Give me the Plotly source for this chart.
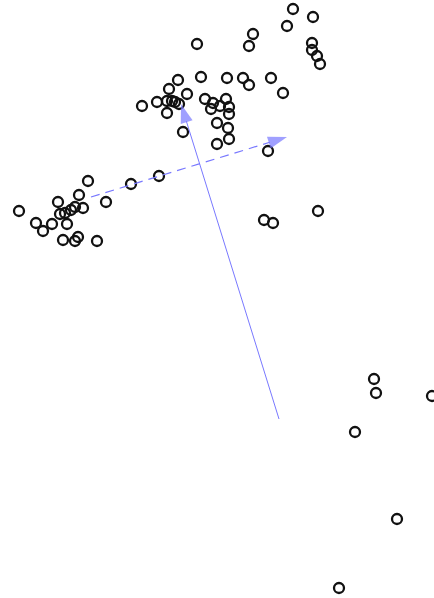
import plotly.graph_objects as go

# point scores (x right, y down)
pts_x = [293, 313, 287, 253, 249, 197, 312, 312, 317, 320,
         178, 201, 227, 243, 249, 271, 283, 169, 187, 142,
         157, 167, 172, 175, 179, 167, 205, 213, 211, 220,
         226, 229, 229, 217, 228, 183, 217, 229, 268,
         88, 159, 131, 79, 106, 19, 58, 83, 75, 71,
         65, 60, 36, 52, 43, 67, 63, 78, 75, 97,
         264, 273, 318,
         374, 376, 432, 355, 397, 339]
pts_y = [9, 17, 26, 34, 46, 44, 43, 50, 56, 64,
         80, 77, 78, 78, 85, 78, 93, 89, 94, 106,
         102, 101, 101, 102, 104, 113, 99, 103, 109, 106,
         99, 107, 114, 123, 128, 132, 144, 139, 151,
         181, 176, 184, 195, 202, 211, 202, 208, 207, 210,
         213, 214, 223, 224, 231, 224, 240, 237, 241, 241,
         220, 223, 211,
         379, 393, 396, 432, 519, 588]

# loading vectors (start, end)
solid_x = [279, 181]
solid_y = [419, 104]
dash_x = [91, 287]
dash_y = [197, 137]

arrow_col = "#7878ff"

fig = go.Figure()

fig.add_trace(go.Scatter(
    x=pts_x, y=pts_y, mode="markers", cliponaxis=False,
    marker=dict(symbol="circle-open", size=10, color="#111111",
                line=dict(width=2.3, color="#111111")),
    hoverinfo="skip", showlegend=False,
))

for xs, ys, dash, w in [(solid_x, solid_y, "solid", 1), (dash_x, dash_y, "9px,6px", 1.2)]:
    fig.add_trace(go.Scatter(
        x=xs, y=ys, mode="lines+markers", cliponaxis=False,
        line=dict(color=arrow_col, width=w, dash=dash),
        marker=dict(symbol=["circle", "arrow"], size=[0, 20],
                    angleref="previous", color=arrow_col,
                    line=dict(width=0)),
        hoverinfo="skip", showlegend=False,
    ))

fig.update_xaxes(range=[0, 434], visible=False)
fig.update_yaxes(range=[598, 0], visible=False)
fig.update_layout(
    width=434, height=598,
    margin=dict(l=0, r=0, t=0, b=0),
    plot_bgcolor="white", paper_bgcolor="white",
)

# drop the default page margin so the figure sits at the window corner
fig.write_html("out.html", config={"displayModeBar": False},
               post_script="document.body.style.margin='0';")
